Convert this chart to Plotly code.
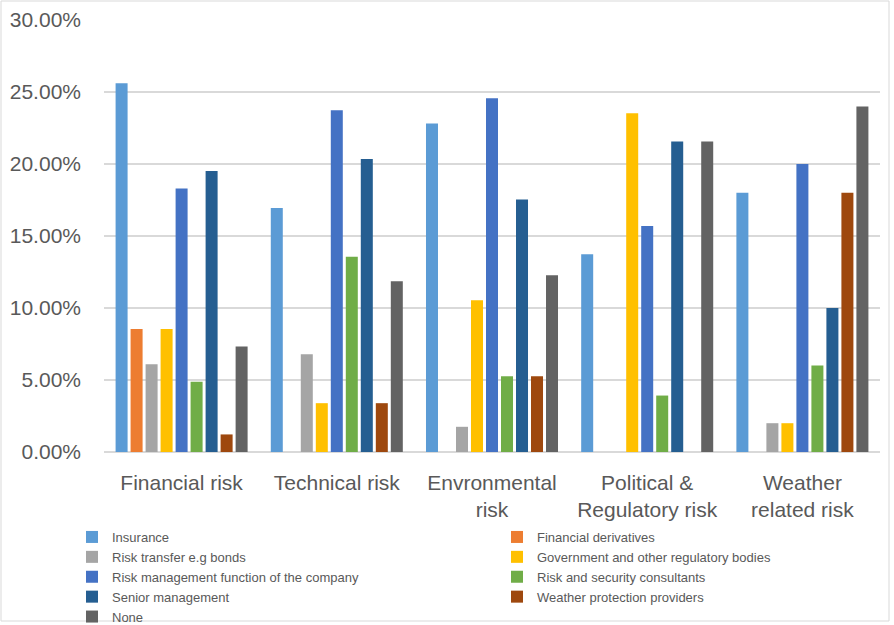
import plotly.graph_objects as go

categories = ["Financial risk", "Technical risk", "Envronmental<br>risk",
              "Political &<br>Regulatory risk", "Weather<br>related risk"]

series_names = ["Insurance", "Financial derivatives", "Risk transfer e.g bonds",
                "Government and other regulatory bodies",
                "Risk management function of the company",
                "Risk and security consultants", "Senior management",
                "Weather protection providers", "None"]

insurance = [0.2561, 0.1695, 0.2281, 0.1373, 0.18]
financial_derivatives = [0.0854, 0.0, 0.0, 0.0, 0.0]
risk_transfer = [0.0610, 0.0678, 0.0175, 0.0, 0.02]
government = [0.0854, 0.0339, 0.1053, 0.2353, 0.02]
risk_mgmt = [0.1829, 0.2373, 0.2456, 0.1569, 0.20]
risk_security = [0.0488, 0.1356, 0.0526, 0.0392, 0.06]
senior_mgmt = [0.1951, 0.2034, 0.1754, 0.2157, 0.10]
weather_protection = [0.0122, 0.0339, 0.0526, 0.0, 0.18]
none = [0.0732, 0.1186, 0.1228, 0.2157, 0.24]

values = [insurance, financial_derivatives, risk_transfer, government, risk_mgmt,
          risk_security, senior_mgmt, weather_protection, none]
colors = ["#5B9BD5", "#ED7D31", "#A5A5A5", "#FFC000", "#4472C4",
          "#70AD47", "#255E91", "#9E480E", "#636363"]

y_ticks = [0, 0.05, 0.10, 0.15, 0.20, 0.25, 0.30]

fig = go.Figure()
for name, vals, col in zip(series_names, values, colors):
    fig.add_trace(go.Bar(name=name, x=categories, y=vals,
                         marker=dict(color=col, line=dict(width=0))))

W, H = 894, 625
ml, mr, mt, mb = 104, 14, 20, 173
pw, ph = W - ml - mr, H - mt - mb

def px_x(x):
    return (x - ml) / pw

def px_y(y):
    return (H - mb - y) / ph

fig.update_layout(
    width=W, height=H,
    margin=dict(l=ml, r=mr, t=mt, b=mb, autoexpand=False),
    paper_bgcolor="white", plot_bgcolor="white",
    barmode="group", bargap=0.13, bargroupgap=0.2,
    font=dict(family="Liberation Sans, Arial, sans-serif", color="#595959"),
    xaxis=dict(showgrid=False, showline=False, ticks="",
               tickfont=dict(size=21, color="#595959"),
               ticklabelstandoff=16, automargin=False),
    yaxis=dict(range=[0, 0.30], tickvals=y_ticks, tickformat=".2%",
               showgrid=True, gridcolor="#D9D9D9", gridwidth=1.5,
               zeroline=True, zerolinecolor="#D9D9D9", zerolinewidth=1.5,
               showline=False, ticks="", automargin=False,
               tickfont=dict(size=21, color="#595959"),
               ticklabelstandoff=22),
    legend=dict(orientation="h", x=px_x(72), y=px_y(522),
                xanchor="left", yanchor="top",
                entrywidth=380, entrywidthmode="pixels",
                font=dict(size=13, color="#595959"),
                bgcolor="rgba(0,0,0,0)",
                traceorder="normal", itemwidth=30,
                tracegroupgap=0),
    shapes=[dict(type="rect", xref="paper", yref="paper",
                 x0=px_x(1), x1=px_x(889), y0=px_y(621), y1=px_y(1),
                 line=dict(color="#D9D9D9", width=1), fillcolor="rgba(0,0,0,0)",
                 layer="below")],
)

fig.write_html("out.html", config={"displayModeBar": False},
               post_script="document.body.style.margin='0';document.body.style.overflow='hidden';")
